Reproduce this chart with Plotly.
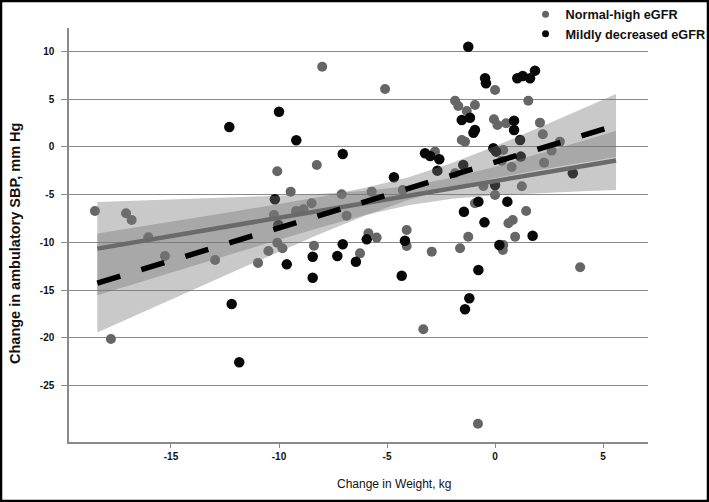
import plotly.graph_objects as go

# ---------------- data ----------------
normal_x = [-18.52, -17.78, -17.08, -16.82, -16.05, -15.28, -12.96, -10.97, -8.0, -5.09,
            -10.08, -8.25, -2.78, -4.27, -5.71, -7.1, -9.46, -8.49, -8.87, -9.21,
            -10.23, -6.87, -5.86, -5.48, -4.09, -4.09, -2.93, -10.08, -9.84, -10.49,
            -8.38, -6.25, -3.32, 0.0, 1.54, -1.85, -1.7, -1.31, -0.93, -1.54,
            -1.39, -0.05, 0.11, 0.51, 2.08, 2.21, 0.38, 0.31, 0.77, 2.62,
            3.0, 2.27, -1.85, -0.54, 1.24, 0.0, -0.93, 1.44, 0.62, 0.82,
            -1.24, 0.93, 0.38, 0.36, -1.62, 3.94, -0.79]
normal_y = [-6.71, -20.13, -6.95, -7.65, -9.47, -11.43, -11.85, -12.15, 8.4, 6.08,
            -2.55, -1.89, -0.49, -4.51, -4.68, -4.96, -4.68, -5.9, -6.53, -6.71,
            -7.13, -7.2, -9.05, -9.5, -8.7, -10.38, -10.97, -10.03, -10.62, -10.9,
            -10.34, -11.15, -19.1, 5.97, 4.85, 4.85, 4.3, 3.77, 4.4, 0.73,
            0.56, 2.9, 2.3, 2.48, 2.55, 1.33, -0.31, -1.43, -2.1, -0.38,
            0.56, -1.64, -2.76, -4.09, -4.12, -5.03, -5.9, -6.71, -8.0, -7.65,
            -9.4, -9.4, -10.27, -10.8, -10.62, -12.61, -29.0]

mild_x = [-12.19, -11.84, -12.3, -10.0, -9.2, -7.05, -3.24, -3.0, -2.58, -2.67,
          -4.68, -10.19, -10.03, -5.94, -4.17, -9.64, -8.44, -8.44, -7.05, -7.3,
          -6.44, -4.32, -1.24, -0.46, -0.42, 1.03, 1.28, 1.62, 1.85, -1.54,
          -1.16, -0.93, -1.0, 0.88, 0.88, 1.16, 1.19, -0.08, 0.05, 3.6,
          -1.47, 0.0, 0.57, -0.77, -1.44, -0.49, 1.74, 0.2, -0.77, -1.19, -1.39]
mild_y = [-16.46, -22.57, 2.1, 3.7, 0.7, -0.73, -0.66, -0.94, -1.29, -2.48,
          -3.18, -5.48, -8.18, -9.68, -9.82, -12.3, -11.5, -13.7, -10.2, -11.43,
          -12.02, -13.49, 10.51, 7.2, 6.68, 7.2, 7.44, 7.2, 8.0, 2.83,
          3.07, 1.78, 1.5, 2.76, 1.78, 0.73, -1.01, -0.14, -0.49, -2.76,
          -1.89, -3.98, -5.73, -5.73, -6.78, -7.9, -9.3, -10.27, -12.89, -15.86, -17.0]

# regression lines (end points)
fit_x = [-18.41, 5.6]
normal_fit_y = [-10.65, -1.41]
mild_fit_y = [-14.26, 2.26]

# confidence bands
band_x = [-18.41, -16, -14, -12, -10, -8, -6, -4, -2, 0, 2, 4, 5.6]
normal_upper = [-5.76, -5.59, -5.44, -5.28, -5.11, -4.90, -4.60, -4.10, -3.23, -2.06, -0.76, 0.60, 1.69]
normal_lower = [-15.54, -13.85, -12.46, -11.08, -9.71, -8.38, -7.14, -6.10, -5.43, -5.06, -4.82, -4.64, -4.51]
mild_upper = [-9.06, -8.20, -7.48, -6.74, -5.97, -5.18, -4.27, -3.17, -1.69, 0.08, 1.98, 3.96, 5.56]
mild_lower = [-19.44, -17.00, -14.98, -12.96, -10.97, -9.02, -7.17, -5.53, -4.25, -3.26, -2.42, -1.64, -1.04]

x_ticks = [-15, -10, -5, 0, 5]
y_ticks = [-25, -20, -15, -10, -5, 0, 5, 10]

x_title = "Change in Weight, kg"
y_title = "Change in ambulatory SBP, mm Hg"

GRAY_PT = "#666666"
BLACK_PT = "#080808"
BAND = "rgba(120,120,120,0.40)"
FONT = "Liberation Sans, Arial, sans-serif"

fig = go.Figure()

fig.add_trace(go.Scatter(x=normal_x, y=normal_y, mode="markers",
                         marker=dict(color=GRAY_PT, size=10, line=dict(width=0)),
                         showlegend=False, hoverinfo="skip"))
fig.add_trace(go.Scatter(x=mild_x, y=mild_y, mode="markers",
                         marker=dict(color=BLACK_PT, size=10.5, line=dict(width=0)),
                         showlegend=False, hoverinfo="skip"))

# bands
fig.add_trace(go.Scatter(x=band_x + band_x[::-1], y=normal_upper + normal_lower[::-1],
                         fill="toself", fillcolor=BAND, mode="lines", line=dict(width=0),
                         showlegend=False, hoverinfo="skip"))
fig.add_trace(go.Scatter(x=band_x + band_x[::-1], y=mild_upper + mild_lower[::-1],
                         fill="toself", fillcolor=BAND, mode="lines", line=dict(width=0),
                         showlegend=False, hoverinfo="skip"))

# regression lines
fig.add_trace(go.Scatter(x=fit_x, y=normal_fit_y, mode="lines",
                         line=dict(color="#6a6a6a", width=4.5),
                         showlegend=False, hoverinfo="skip"))
fig.add_trace(go.Scatter(x=fit_x, y=mild_fit_y, mode="lines",
                         line=dict(color="#000000", width=5.5, dash="24px,22px"),
                         showlegend=False, hoverinfo="skip"))

# legend entries
fig.add_trace(go.Scatter(x=[None], y=[None], mode="markers", name="Normal-high eGFR",
                         marker=dict(color=GRAY_PT, size=7)))
fig.add_trace(go.Scatter(x=[None], y=[None], mode="markers", name="Mildly decreased eGFR",
                         marker=dict(color=BLACK_PT, size=7)))

# outer frame of the picture
fig.add_shape(type="rect", xref="paper", yref="paper",
              x0=-68 / 579, x1=639 / 579, y0=-59 / 414, y1=1 + 27 / 414,
              line=dict(color="#000000", width=2.5), fillcolor="rgba(0,0,0,0)", layer="above")

# axis titles
fig.add_annotation(text=x_title, xref="paper", yref="paper", x=(394 - 69) / 579, y=-(484 - 442) / 414,
                   xanchor="center", yanchor="middle", showarrow=False,
                   font=dict(family=FONT, size=12, color="#111111"))
fig.add_annotation(text=y_title, xref="paper", yref="paper", x=(15 - 69) / 579, y=(442 - 244) / 414,
                   xanchor="center", yanchor="middle", showarrow=False, textangle=-90,
                   font=dict(family=FONT, size=14.5, color="#111111", weight="bold"))

fig.update_layout(
    width=709, height=502,
    margin=dict(l=69, r=61, t=28, b=60, autoexpand=False),
    paper_bgcolor="white", plot_bgcolor="white",
    font=dict(family=FONT, color="#111111"),
    legend=dict(x=0.7885, y=1.069, xanchor="left", yanchor="top",
                font=dict(family=FONT, size=12.7, color="#111111", weight="bold"),
                bgcolor="rgba(0,0,0,0)", tracegroupgap=0, itemsizing="trace"),
    xaxis=dict(range=[-19.72, 7.08], tickvals=x_ticks, ticktext=[str(v) for v in x_ticks],
               automargin=False,
               showgrid=False, zeroline=False, showline=True, linecolor="#8a8a8a", linewidth=1.5,
               ticks="outside", ticklen=4, tickcolor="#8a8a8a", tickwidth=1.2,
               tickfont=dict(family=FONT, size=10, color="#111111", weight="bold")),
    yaxis=dict(range=[-30.92, 12.47], tickvals=y_ticks, ticktext=[str(v) for v in y_ticks],
               automargin=False,
               showgrid=True, gridcolor="#8a8a8a", gridwidth=1.3, zeroline=False,
               showline=True, linecolor="#8a8a8a", linewidth=1.5,
               ticks="outside", ticklen=6, tickcolor="#8a8a8a", tickwidth=1.3,
               ticklabelstandoff=5,
               tickfont=dict(family=FONT, size=10, color="#111111", weight="bold")),
)

fig.write_html("out.html", config={"displayModeBar": False},
               post_script="document.body.style.margin='0';")
